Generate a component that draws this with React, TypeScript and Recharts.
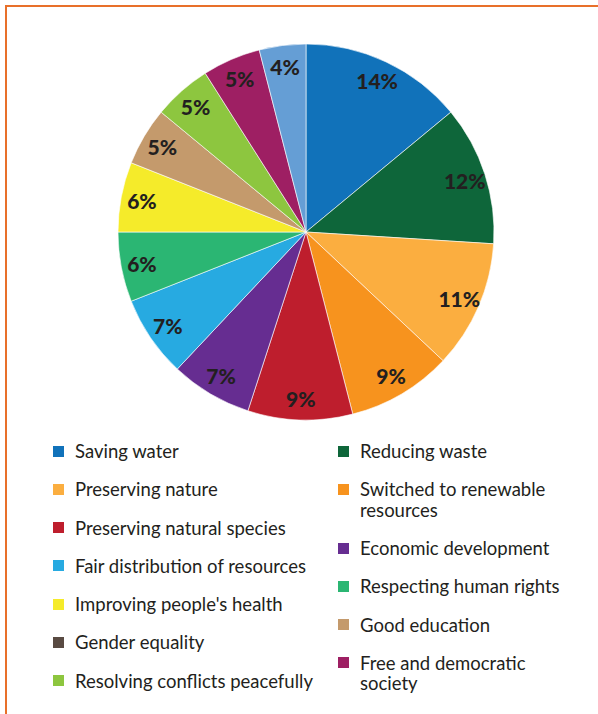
import React from "react";
import { PieChart, Pie, Cell, Legend } from "recharts";

const categories = [
  "Saving water",
  "Reducing waste",
  "Preserving nature",
  "Switched to renewable resources",
  "Preserving natural species",
  "Economic development",
  "Fair distribution of resources",
  "Respecting human rights",
  "Improving people's health",
  "Good education",
  "Resolving conflicts peacefully",
  "Free and democratic society",
  "Gender equality",
];
const values = [14, 12, 11, 9, 9, 7, 7, 6, 6, 5, 5, 5, 4];
const sliceColors = [
  "#1172BA",
  "#0E663A",
  "#FBAE40",
  "#F7931E",
  "#BE1E2D",
  "#662D91",
  "#27AAE1",
  "#2BB673",
  "#F5EB2A",
  "#C49A6C",
  "#8DC63F",
  "#9E1F63",
  "#659ED5",
];

const legendLeft = [
  "Saving water",
  "Preserving nature",
  "Preserving natural species",
  "Fair distribution of resources",
  "Improving people's health",
  "Gender equality",
  "Resolving conflicts peacefully",
];
const legendLeftColors = ["#1172BA", "#FBAE40", "#BE1E2D", "#27AAE1", "#F5EB2A", "#594A42", "#8DC63F"];
const legendRight = [
  "Reducing waste",
  "Switched to renewable resources",
  "Economic development",
  "Respecting human rights",
  "Good education",
  "Free and democratic society",
];
const legendRightColors = ["#0E663A", "#F7931E", "#662D91", "#2BB673", "#C49A6C", "#9E1F63"];

const data = categories.map((name, i) => ({ name, value: values[i] }));

const FONT = "Lato, 'Open Sans', sans-serif";
const TEXT = "#231F20";
const RAD = Math.PI / 180;

const renderLabel = (props: any) => {
  const { cx, cy, midAngle, value } = props;
  const r = 167;
  const x = cx + r * Math.cos(-midAngle * RAD);
  const y = cy + r * Math.sin(-midAngle * RAD);
  return (
    <text
      x={x}
      y={y}
      textAnchor="middle"
      dominantBaseline="central"
      fill={TEXT}
      fontFamily={FONT}
      fontWeight={900}
      fontSize={21}
    >
      {value}%
    </text>
  );
};

const LegendColumn = ({ labels, colors, left, textWidth }: any) => (
  <div style={{ position: "absolute", left, top: 0 }}>
    {labels.map((l: string, i: number) => (
      <div key={l} style={{ display: "flex", alignItems: "flex-start", marginBottom: 17.8 }}>
        <div
          style={{
            width: 11,
            height: 11,
            background: colors[i],
            marginTop: 4.5,
            marginRight: 11,
            flexShrink: 0,
          }}
        />
        <div style={{ width: textWidth, lineHeight: "20.5px", fontSize: 18.5, color: TEXT, fontFamily: FONT }}>{l}</div>
      </div>
    ))}
  </div>
);

const renderLegend = () => (
  <div style={{ position: "relative", width: 598, height: 280 }}>
    <LegendColumn labels={legendLeft} colors={legendLeftColors} left={53} textWidth={262} />
    <LegendColumn labels={legendRight} colors={legendRightColors} left={338} textWidth={212} />
  </div>
);

export default function App() {
  return (
    <div
      style={{
        position: "fixed",
        left: 5,
        top: 5,
        width: 593,
        height: 709,
        borderTop: "2px solid #E8702A",
        borderLeft: "2px solid #E8702A",
        boxSizing: "border-box",
        background: "#fff",
      }}
    >
      <div style={{ position: "absolute", left: -7, top: -7 }}>
        <PieChart width={598} height={714} margin={{ top: 0, left: 0, right: 0, bottom: 0 }}>
          <Pie
            data={data}
            dataKey="value"
            nameKey="name"
            cx={306}
            cy={232}
            outerRadius={188}
            startAngle={90}
            endAngle={-270}
            stroke="#ffffff"
            strokeWidth={0.6}
            label={renderLabel}
            labelLine={false}
            isAnimationActive={false}
          >
            {data.map((d, i) => (
              <Cell key={d.name} fill={sliceColors[i]} />
            ))}
          </Pie>
          <Legend content={renderLegend} wrapperStyle={{ position: "absolute", left: 0, top: 441, width: 598 }} />
        </PieChart>
      </div>
    </div>
  );
}
